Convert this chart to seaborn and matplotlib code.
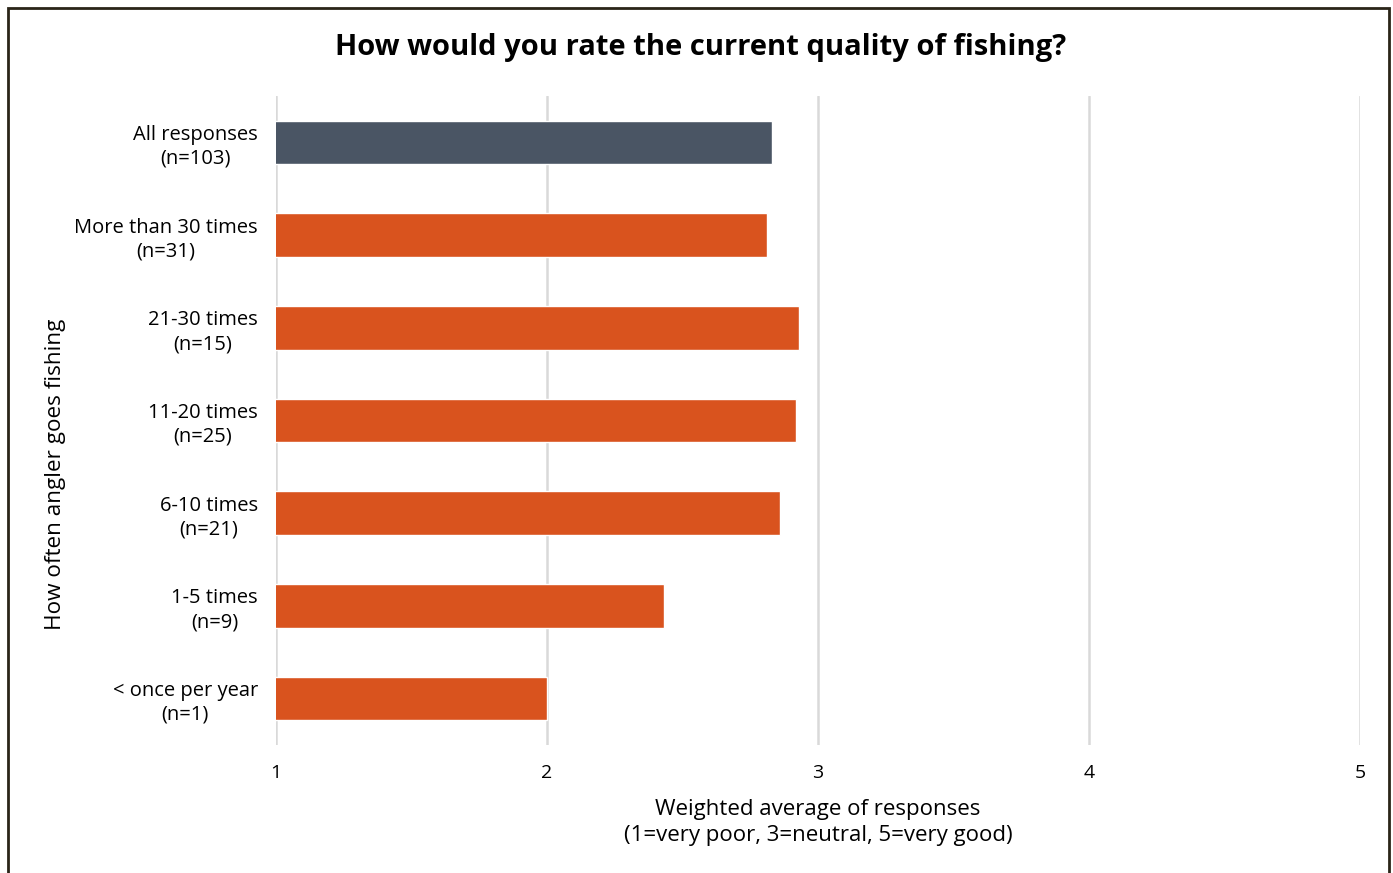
import numpy as np
import pandas as pd
import matplotlib
matplotlib.use('Agg')
import matplotlib.pyplot as plt
import seaborn as sns
from matplotlib.patches import Rectangle

# Data
groups = ['All responses\n(n=103)', 'More than 30 times\n(n=31)', '21-30 times\n(n=15)',
          '11-20 times\n(n=25)', '6-10 times\n(n=21)', '1-5 times\n(n=9)',
          '< once per year\n(n=1)']
ratings = [2.83, 2.81, 2.93, 2.92, 2.86, 2.43, 2.00]
bar_colors = ['#4a5564', '#d9531e', '#d9531e', '#d9531e', '#d9531e', '#d9531e', '#d9531e']

df = pd.DataFrame({'group': groups, 'rating': ratings})

sns.set_theme(style='white')
plt.rcParams['font.family'] = ['Open Sans', 'DejaVu Sans']

fig = plt.figure(figsize=(13.93, 8.73), dpi=100)
ax = fig.add_axes([276 / 1393, 1 - 745 / 873, (1360 - 276) / 1393, (745 - 96) / 873])

sns.barplot(data=df, y='group', x='rating', hue='group', palette=bar_colors,
            orient='h', width=0.47, legend=False, ax=ax, saturation=1)

ax.set_xlim(1, 5)
ax.set_ylim(6.5, -0.5)
ax.set_xticks([1, 2, 3, 4, 5])
ax.xaxis.grid(True, color='#d9d9d9', linewidth=1.8)
ax.set_axisbelow(True)
sns.despine(ax=ax, left=True, bottom=True)
ax.tick_params(axis='x', length=0, pad=14, labelsize=14, colors='black')
ax.tick_params(axis='y', length=0, pad=13, labelsize=14.5, colors='black')
for lab in ax.get_yticklabels():
    lab.set_multialignment('center')
    lab.set_linespacing(1.25)

ax.set_ylabel('')
ax.set_xlabel('Weighted average of responses\n(1=very poor, 3=neutral, 5=very good)',
              fontsize=16, labelpad=12, color='black', linespacing=1.3)

fig.text(55 / 1393, 1 - 474 / 873, 'How often angler goes fishing', rotation=90,
         ha='center', va='center', fontsize=16.2, color='black')
fig.text(701 / 1393, 1 - 48 / 873, 'How would you rate the current quality of fishing?',
         ha='center', va='center', fontsize=21, fontweight='bold', color='black')

# dark frame around the chart
fig.patches.append(Rectangle((8 / 1393, -0.02), (1389 - 8) / 1393, 1 - 8 / 873 + 0.02,
                             transform=fig.transFigure, fill=False,
                             edgecolor='#2a2518', linewidth=2))

fig.savefig('out.png', dpi=100)
